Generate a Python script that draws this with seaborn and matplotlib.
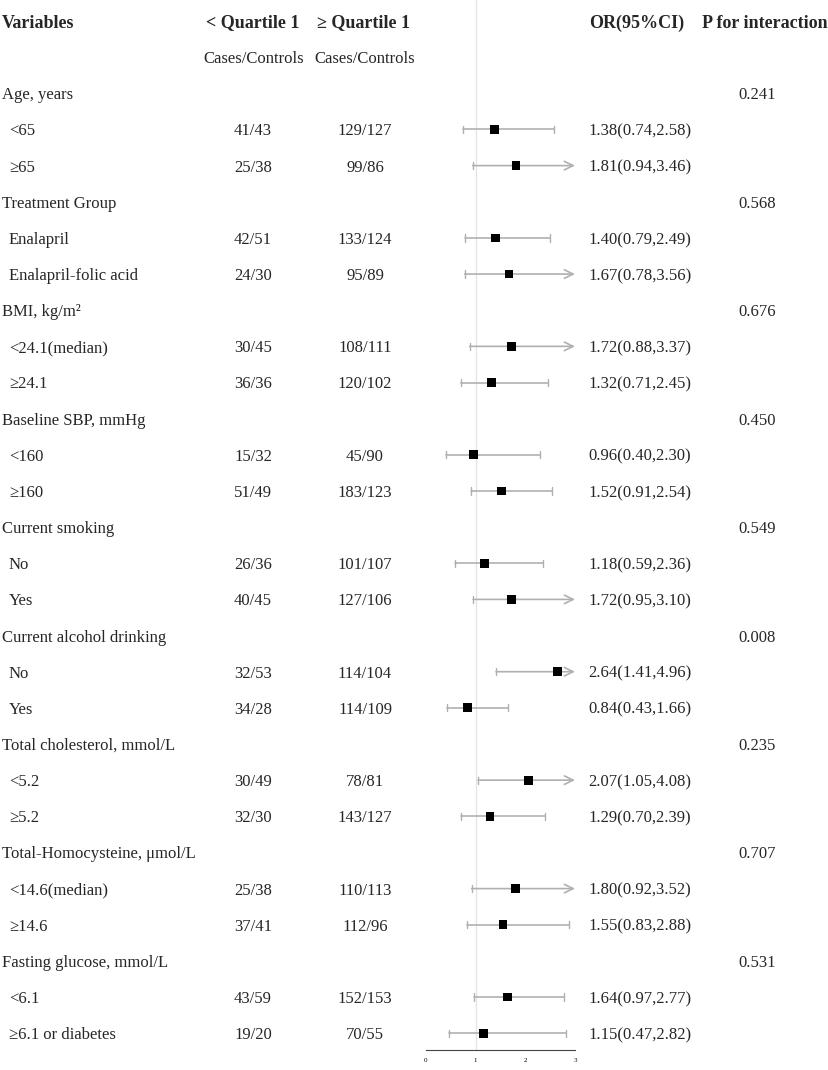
# Forest plot: OR by subgroup (< Quartile 1 vs >= Quartile 1)

import matplotlib
matplotlib.use('Agg')
import matplotlib.pyplot as plt
import matplotlib.transforms as mtransforms
import seaborn as sns
import pandas as pd

# --- datos ---
groups = ["Age, years", "Treatment Group", "BMI, kg/m\u00b2", "Baseline SBP, mmHg",
          "Current smoking", "Current alcohol drinking", "Total cholesterol, mmol/L",
          "Total-Homocysteine, \u03bcmol/L", "Fasting glucose, mmol/L"]
p_int = ["0.241", "0.568", "0.676", "0.450", "0.549", "0.008", "0.235", "0.707", "0.531"]
subgroups = ["<65", "\u226565", "Enalapril", "Enalapril-folic acid", "<24.1(median)", "\u226524.1",
             "<160", "\u2265160", "No", "Yes", "No", "Yes", "<5.2", "\u22655.2",
             "<14.6(median)", "\u226514.6", "<6.1", "\u22656.1 or diabetes"]
low_cc = ["41/43", "25/38", "42/51", "24/30", "30/45", "36/36", "15/32", "51/49", "26/36",
          "40/45", "32/53", "34/28", "30/49", "32/30", "25/38", "37/41", "43/59", "19/20"]
high_cc = ["129/127", "99/86", "133/124", "95/89", "108/111", "120/102", "45/90", "183/123",
           "101/107", "127/106", "114/104", "114/109", "78/81", "143/127", "110/113", "112/96",
           "152/153", "70/55"]
or_est = [1.38, 1.81, 1.40, 1.67, 1.72, 1.32, 0.96, 1.52, 1.18, 1.72, 2.64, 0.84, 2.07, 1.29,
          1.80, 1.55, 1.64, 1.15]
ci_lo = [0.74, 0.94, 0.79, 0.78, 0.88, 0.71, 0.40, 0.91, 0.59, 0.95, 1.41, 0.43, 1.05, 0.70,
         0.92, 0.83, 0.97, 0.47]
ci_hi = [2.58, 3.46, 2.49, 3.56, 3.37, 2.45, 2.30, 2.54, 2.36, 3.10, 4.96, 1.66, 4.08, 2.39,
         3.52, 2.88, 2.77, 2.82]
x_ticks = [0, 1, 2, 3]
x_max = 3

# filas: 0 = encabezado, 1 = Cases/Controls, luego 3 filas por grupo
rows_group = [2 + 3 * i for i in range(len(groups))]
rows_sub = [r + k for r in rows_group for k in (1, 2)]

df = pd.DataFrame({'row': rows_sub, 'OR': or_est, 'lo': ci_lo, 'hi': ci_hi})

sns.set_style('white')
plt.rcParams['font.family'] = ['Liberation Serif', 'DejaVu Serif']

W, H = 829, 1070
fig = plt.figure(figsize=(W / 100, H / 100), dpi=100)
ax = fig.add_axes([426 / W, (H - 1050) / H, (575 - 426) / W, 1050 / H])

# rows: pixel y = 21 + 36.15 * row
row_h = 36.15
ax.set_ylim((1050 - 21) / row_h, -21 / row_h)
ax.set_xlim(0, x_max)

ax.axvline(1, color='#e3e3e3', lw=0.9, zorder=0)

grey = '#b0b0b0'
for _, r in df.iterrows():
    hi = min(r['hi'], x_max)
    ax.plot([r['lo'], r['lo']], [r['row'] - 0.1, r['row'] + 0.1], color=grey, lw=1.0)
    if r['hi'] > x_max:
        ax.annotate('', xy=(hi, r['row']), xytext=(r['lo'], r['row']),
                    arrowprops=dict(arrowstyle='->,head_length=0.45,head_width=0.22',
                                    color=grey, lw=1.2, shrinkA=0, shrinkB=0,
                                    mutation_scale=14))
    else:
        ax.plot([r['lo'], hi], [r['row'], r['row']], color=grey, lw=1.2)
        ax.plot([hi, hi], [r['row'] - 0.1, r['row'] + 0.1], color=grey, lw=1.0)

sns.scatterplot(data=df, x='OR', y='row', marker='s', color='black', s=40,
                edgecolor='none', ax=ax, zorder=3)

for s in ['top', 'right', 'left']:
    ax.spines[s].set_visible(False)
ax.spines['bottom'].set_color('#444444')
ax.spines['bottom'].set_linewidth(0.8)
ax.set_xticks(x_ticks)
ax.set_xticklabels([str(t) for t in x_ticks])
ax.tick_params(axis='x', direction='in', length=4, width=0.8, colors='#444444',
               labelsize=5, pad=6, labelcolor='black')
ax.set_yticks([])
ax.set_xlabel('')
ax.set_ylabel('')

# texto en columnas (un poco más abajo para centrar con las marcas)
tr = mtransforms.blended_transform_factory(fig.transFigure, ax.transData)
tr = tr + mtransforms.ScaledTranslation(0, -2 / 100, fig.dpi_scale_trans)
def px(x):
    return x / W

hdr = dict(transform=tr, va='center', fontsize=13, fontweight='bold', clip_on=False)
txt = dict(transform=tr, va='center', fontsize=12, clip_on=False)

ax.text(px(2), 0, 'Variables', ha='left', **hdr)
ax.text(px(253), 0, '< Quartile 1', ha='center', **hdr)
ax.text(px(364), 0, '\u2265 Quartile 1', ha='center', **hdr)
ax.text(px(589), 0, 'OR(95%CI)', ha='left', **hdr)
ax.text(px(765), 0, 'P for interaction', ha='center', **hdr)
ax.text(px(254), 1, 'Cases/Controls', ha='center', **txt)
ax.text(px(365), 1, 'Cases/Controls', ha='center', **txt)

for g, p, r in zip(groups, p_int, rows_group):
    ax.text(px(2), r, g, ha='left', **txt)
    ax.text(px(757), r, p, ha='center', **txt)

for i, r in enumerate(rows_sub):
    ax.text(px(9), r, subgroups[i], ha='left', **txt)
    ax.text(px(253), r, low_cc[i], ha='center', **txt)
    ax.text(px(365), r, high_cc[i], ha='center', **txt)
    ax.text(px(588), r, f"{or_est[i]:.2f}({ci_lo[i]:.2f},{ci_hi[i]:.2f})", ha='left', **txt)

fig.savefig('out.png', dpi=100)
